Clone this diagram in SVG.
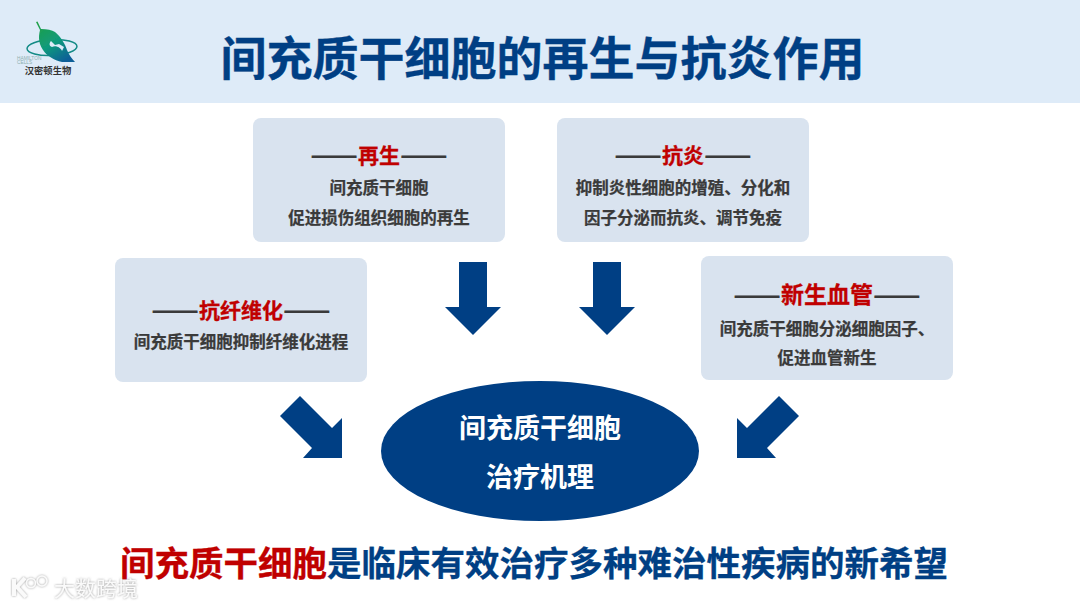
<svg xmlns="http://www.w3.org/2000/svg" width="1080" height="606" viewBox="0 0 1080 606">
<defs>
<style>
text{font-family:"Noto Sans CJK SC","Liberation Sans",sans-serif;font-weight:700;text-anchor:middle}
.card{fill:#d9e3ef}
.head{font-size:21px;fill:#c00000;stroke:#c00000;stroke-width:.3px}
.dash{font-size:28px;fill:#3a3a3a}
.body{font-size:16.500px;fill:#3a3a3a;stroke:#3a3a3a;stroke-width:.25px}
.arrow{fill:#003f84}
.latin{font-family:"Liberation Sans",sans-serif;font-size:4.800px;font-weight:400;fill:#8fb0b0;text-anchor:start}
</style>
<linearGradient id="leaf" x1="0.1" y1="0" x2="0.7" y2="1"><stop offset="0" stop-color="#1fa045"/><stop offset=".55" stop-color="#109a7c"/><stop offset="1" stop-color="#0b5f98"/></linearGradient>
<filter id="soft" x="-5%" y="-5%" width="110%" height="110%"><feGaussianBlur stdDeviation=".35"/></filter>
<filter id="halo" x="-10%" y="-20%" width="120%" height="140%"><feDropShadow dx="0" dy="0" stdDeviation="1" flood-color="#8c8c8c" flood-opacity=".9"/></filter>
</defs>
<rect width="1080" height="606" fill="#ffffff"/>
<rect id="header" width="1080" height="103" fill="#deebf8"/>
<g id="logo">
<g filter="url(#soft)">
<ellipse cx="52" cy="47.500" rx="25" ry="8" transform="rotate(-3 52 47.500)" fill="none" stroke="#128a85" stroke-width="1.500"/>
<path d="M36 22L37.500 21.500L41 29C47 29 52 30 55 32C61 37 65 44 67 50C69 55 72 59 75 62L62 62C54 60 47 56 43 50C39 44 38 38 40 30Z" fill="url(#leaf)"/>
<path d="M51 41C49 43 49 46 52 47C56 45 61 48 62 51L64 47L59 44L55 45Z" fill="#deebf8"/>
</g>
<text class="latin" x="17" y="59.500">HAMILTON</text>
<text class="latin" x="17" y="64">CELLS</text>
<text x="48" y="73.500" style="font-size:9.300px;fill:#333">汉密顿生物</text>
</g>
<text id="title" x="542.500" y="75" style="font-size:46px;fill:#003f84;stroke:#003f84;stroke-width:.4px">间充质干细胞的再生与抗炎作用</text>
<g id="node-regen">
<rect class="card" x="253" y="118" width="252" height="124" rx="8"/>
<text x="379" y="163"><tspan class="dash" dy="2">——</tspan><tspan class="head" dy="-2">再生</tspan><tspan class="dash" dy="2">——</tspan></text>
<text class="body" x="379" y="194">间充质干细胞</text>
<text class="body" x="379" y="224">促进损伤组织细胞的再生</text>
</g>
<g id="node-anti">
<rect class="card" x="557" y="118" width="252" height="124" rx="8"/>
<text x="683" y="163"><tspan class="dash" dy="2">——</tspan><tspan class="head" dy="-2">抗炎</tspan><tspan class="dash" dy="2">——</tspan></text>
<text class="body" x="683" y="194">抑制炎性细胞的增殖、分化和</text>
<text class="body" x="683" y="224">因子分泌而抗炎、调节免疫</text>
</g>
<g id="node-fibro">
<rect class="card" x="115" y="258" width="252" height="124" rx="8"/>
<text x="241" y="318"><tspan class="dash" dy="2">——</tspan><tspan class="head" dy="-2">抗纤维化</tspan><tspan class="dash" dy="2">——</tspan></text>
<text class="body" x="241" y="348">间充质干细胞抑制纤维化进程</text>
</g>
<g id="node-angio">
<rect class="card" x="701" y="256" width="252" height="124" rx="8"/>
<text x="827" y="303"><tspan class="dash" dy="2">——</tspan><tspan class="head" style="font-size:23px" dy="-2">新生血管</tspan><tspan class="dash" dy="2">——</tspan></text>
<text class="body" x="827" y="335">间充质干细胞分泌细胞因子、</text>
<text class="body" x="827" y="364">促进血管新生</text>
</g>
<g id="connectors">
<polygon class="arrow" points="459,262 487,262 487,307 501,307 473,335 445,307 459,307"/>
<polygon class="arrow" points="593,262 621,262 621,307 635,307 607,335 579,307 593,307"/>
<polygon class="arrow" points="300,396 280,416 312,448 303,458 342,458 342,418 332,428"/>
<polygon class="arrow" points="779,396 799,416 767,448 776,458 737,458 737,418 747,428"/>
</g>
<g id="node-center">
<ellipse cx="540" cy="451" rx="159" ry="70" fill="#003f84"/>
<text x="540" y="438" style="font-size:27px;fill:#fff">间充质干细胞</text>
<text x="540" y="487" style="font-size:27px;fill:#fff">治疗机理</text>
</g>
<text id="footer" x="534" y="576" style="font-size:34.500px;fill:#003f84;stroke:#003f84;stroke-width:.3px"><tspan fill="#c00000" stroke="#c00000">间充质干细胞</tspan>是临床有效治疗多种难治性疾病的新希望</text>
<g id="watermark" filter="url(#halo)">
<path d="M14 579v17M25 578l-8 9l9 10" fill="none" stroke="#fafafa" stroke-width="4"/>
<circle cx="31" cy="583" r="4.500" fill="none" stroke="#fafafa" stroke-width="1.500"/>
<circle cx="42" cy="581" r="5" fill="none" stroke="#fafafa" stroke-width="1.500"/>
<text x="96" y="596" style="font-size:21px;font-weight:400;fill:#fafafa">大数跨境</text>
</g>
</svg>
